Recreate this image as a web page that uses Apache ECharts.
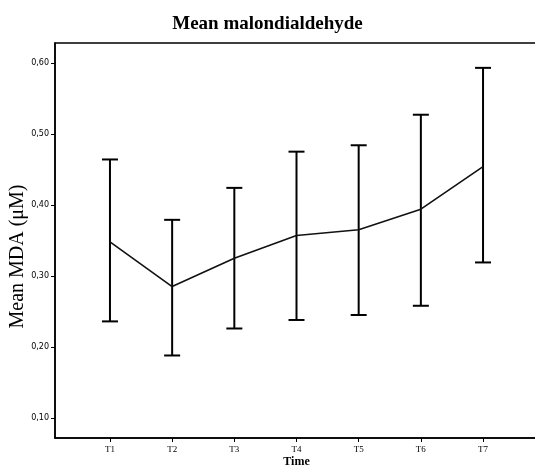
<!DOCTYPE html>
<html>
<head>
  <meta charset="utf-8">
  <title>Mean malondialdehyde</title>
  <script src="https://cdn.jsdelivr.net/npm/echarts@6.0.0/dist/echarts.min.js"></script>
  <style>
    body { margin: 0; background: #fff; }
    #chart { width: 535px; height: 466px; }
  </style>
</head>
<body>
  <div id="chart"></div>
  <script>
    // data
    const times = ['T1', 'T2', 'T3', 'T4', 'T5', 'T6', 'T7'];
    const meanMDA = [0.348, 0.285, 0.325, 0.357, 0.365, 0.394, 0.454];
    const lowerCI = [0.236, 0.188, 0.226, 0.238, 0.245, 0.258, 0.319];
    const upperCI = [0.464, 0.379, 0.424, 0.475, 0.484, 0.527, 0.593];
    const yTicks = [0.1, 0.2, 0.3, 0.4, 0.5, 0.6];

    const xPos = times.map((t, i) => i + 1);
    const serif = 'Liberation Serif';

    const chart = echarts.init(document.getElementById('chart'));
    chart.setOption({
      backgroundColor: '#fff',
      animation: false,
      title: {
        text: 'Mean malondialdehyde',
        left: 'center',
        top: 10,
        textStyle: { fontFamily: serif, fontWeight: 'bold', fontSize: 19, color: '#000' }
      },
      grid: {
        left: 55, right: -3, top: 43, bottom: 28,
        outerBoundsMode: 'none',
        containLabel: false,
        show: true, borderColor: '#000', borderWidth: 1.5, backgroundColor: '#fff'
      },
      xAxis: {
        type: 'value',
        min: 0.116, max: 7.884,
        name: 'Time',
        nameLocation: 'middle',
        nameMoveOverlap: false,
        nameGap: 18,
        nameTextStyle: { fontFamily: serif, fontWeight: 'bold', fontSize: 12, color: '#000' },
        axisLine: { show: true, lineStyle: { color: '#000', width: 1.5 } },
        splitLine: { show: false },
        axisTick: { show: true, inside: false, length: 4, customValues: xPos, lineStyle: { color: '#000' } },
        axisLabel: {
          customValues: xPos,
          formatter: v => times[Math.round(v) - 1],
          fontFamily: serif, fontSize: 9, color: '#000', margin: 7
        }
      },
      yAxis: {
        type: 'value',
        min: 0.0718, max: 0.628,
        name: 'Mean MDA (\u03bcM)',
        nameLocation: 'middle',
        nameMoveOverlap: false,
        nameGap: 27,
        nameTextStyle: { fontFamily: serif, fontSize: 20, color: '#000', padding: [0, 32, 0, 0] },
        axisLine: { show: true, lineStyle: { color: '#000', width: 1.5 } },
        splitLine: { show: false },
        axisTick: { show: true, inside: false, length: 4, customValues: yTicks, lineStyle: { color: '#000' } },
        axisLabel: {
          customValues: yTicks,
          formatter: v => v.toFixed(2).replace('.', ','),
          fontFamily: 'DejaVu Sans', fontSize: 8, color: '#000', margin: 6
        }
      },
      series: [
        {
          type: 'custom',
          data: xPos.map((x, i) => [x, lowerCI[i], upperCI[i]]),
          renderItem: function (params, api) {
            const lo = api.coord([api.value(0), api.value(1)]);
            const hi = api.coord([api.value(0), api.value(2)]);
            const hw = 8;
            const style = { stroke: '#000', lineWidth: 2 };
            return {
              type: 'group',
              children: [
                { type: 'line', shape: { x1: lo[0], y1: lo[1], x2: hi[0], y2: hi[1] }, style: style },
                { type: 'line', shape: { x1: lo[0] - hw, y1: lo[1], x2: lo[0] + hw, y2: lo[1] }, style: style },
                { type: 'line', shape: { x1: hi[0] - hw, y1: hi[1], x2: hi[0] + hw, y2: hi[1] }, style: style }
              ]
            };
          }
        },
        {
          type: 'line',
          data: xPos.map((x, i) => [x, meanMDA[i]]),
          showSymbol: false,
          lineStyle: { color: '#111', width: 1.6 },
          z: 3
        }
      ]
    });
  </script>
</body>
</html>
